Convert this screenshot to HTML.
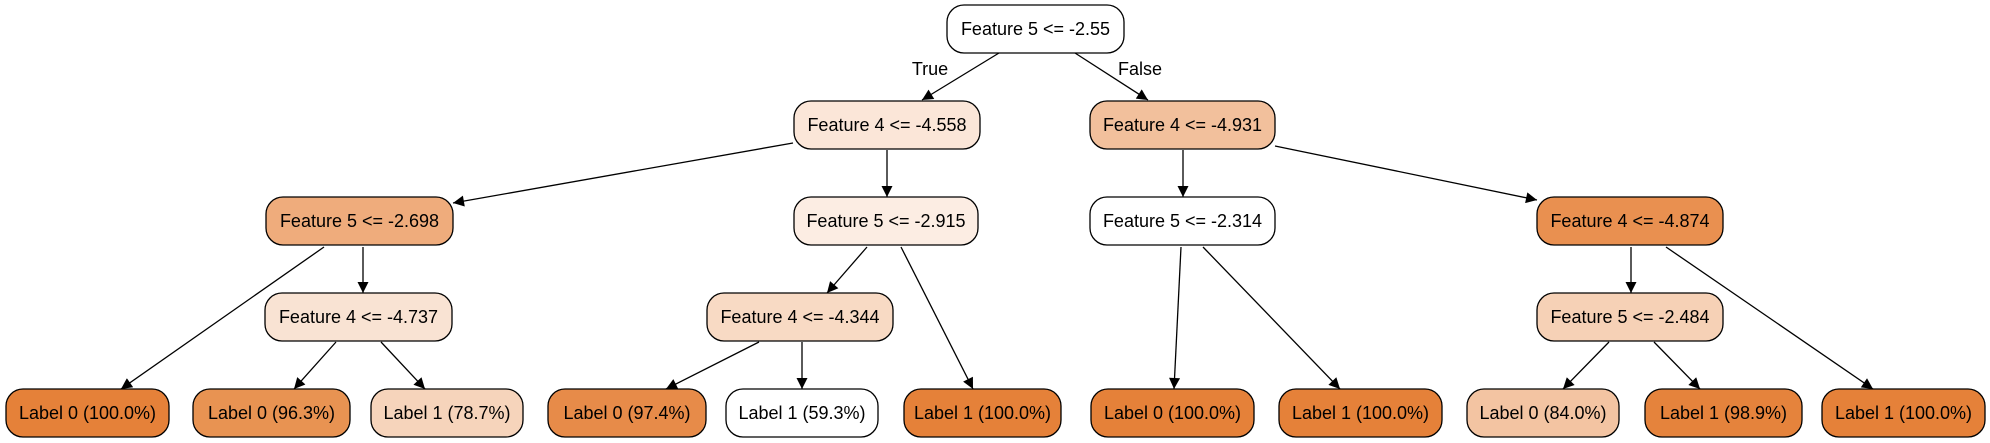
<!DOCTYPE html>
<html><head><meta charset="utf-8"><style>
html,body{margin:0;padding:0;background:#fff;}
svg{display:block;}
text{font-family:"Liberation Sans",Arial,sans-serif;font-size:18px;fill:#000;}
</style></head><body>
<svg id="tree" width="1990" height="443" viewBox="0 0 1990 443" xmlns="http://www.w3.org/2000/svg">
<defs><marker id="arr" viewBox="0 0 10 10" refX="10" refY="5" markerWidth="14" markerHeight="11" markerUnits="userSpaceOnUse" orient="auto"><path d="M0,0 L10,5 L0,10 z" fill="#000"/></marker></defs>
<g id="edges"></g><g id="nodes"></g>
</svg>
<script>
const nodeLabels=["Feature 5 <= -2.55","Feature 4 <= -4.558","Feature 4 <= -4.931","Feature 5 <= -2.698","Feature 5 <= -2.915","Feature 5 <= -2.314","Feature 4 <= -4.874","Feature 4 <= -4.737","Feature 4 <= -4.344","Feature 5 <= -2.484","Label 0 (100.0%)","Label 0 (96.3%)","Label 1 (78.7%)","Label 0 (97.4%)","Label 1 (59.3%)","Label 1 (100.0%)","Label 0 (100.0%)","Label 1 (100.0%)","Label 0 (84.0%)","Label 1 (98.9%)","Label 1 (100.0%)"];
const nodeColors=["#ffffff","#fbe6d8","#f2c09c","#efac7c","#fcede3","#ffffff","#e99050","#f9e3d3","#f8dac4","#f6d1b6","#e58139","#e89352","#f6d4bb","#e78b49","#ffffff","#e58139","#e58139","#e58139","#f3c4a2","#e5833c","#e58139"];
const nodeX1=[947,794,1090,266,794,1090,1537,265,707,1537,6,193,371,548,726,904,1091,1279,1467,1645,1822];
const nodeX2=[1124,980,1275,453,978,1275,1723,452,893,1723,169,350,523,706,878,1061,1254,1442,1619,1802,1985];
const nodeLevel=[0,1,1,2,2,2,2,3,3,3,4,4,4,4,4,4,4,4,4,4,4];
const edges=[[999,53,922,100],[1075,53,1148,100],[793,143,453,203],[887,150,887,197],[1183,150,1183,197],[1275,146,1537,200],[324,247,121,389],[363,247,363,293],[336,342,294,389],[381,342,425,389],[867,247,827,293],[901,247,973,389],[759,342,666,389],[802,342,802,389],[1181,247,1174,389],[1203,247,1340,389],[1631,247,1631,293],[1666,247,1873,389],[1609,342,1563,389],[1654,342,1700,389]];
const levelTop=[5,101,197,293,389];
const NS="http://www.w3.org/2000/svg";
const eg=document.getElementById('edges'),ng=document.getElementById('nodes');
edges.forEach((e,i)=>{
 const l=document.createElementNS(NS,'line');
 l.setAttribute('x1',e[0]);l.setAttribute('y1',e[1]);l.setAttribute('x2',e[2]);l.setAttribute('y2',e[3]);
 l.setAttribute('stroke','#000');l.setAttribute('stroke-width','1.3');l.setAttribute('marker-end','url(#arr)');
 
 
 eg.appendChild(l);
});
[["True",930,75],["False",1140,75]].forEach(t=>{
 const tx=document.createElementNS(NS,'text');
 tx.setAttribute('x',t[1]);tx.setAttribute('y',t[2]);tx.setAttribute('text-anchor','middle');tx.textContent=t[0];
 
 
 eg.appendChild(tx);
});
nodeLabels.forEach((lab,i)=>{
 const g=document.createElementNS(NS,'g');
 
 
 const y=levelTop[nodeLevel[i]],x=nodeX1[i],w=nodeX2[i]-nodeX1[i];
 const r=document.createElementNS(NS,'rect');
 r.setAttribute('x',x);r.setAttribute('y',y);r.setAttribute('width',w);r.setAttribute('height',48);
 r.setAttribute('rx',17);r.setAttribute('fill',nodeColors[i]);r.setAttribute('stroke','#000');r.setAttribute('stroke-width','1.3');
 g.appendChild(r);
 const t=document.createElementNS(NS,'text');
 t.setAttribute('x',x+w/2);t.setAttribute('y',y+30);t.setAttribute('text-anchor','middle');t.textContent=lab;
 g.appendChild(t);
 ng.appendChild(g);
});
</script>
</body></html>
